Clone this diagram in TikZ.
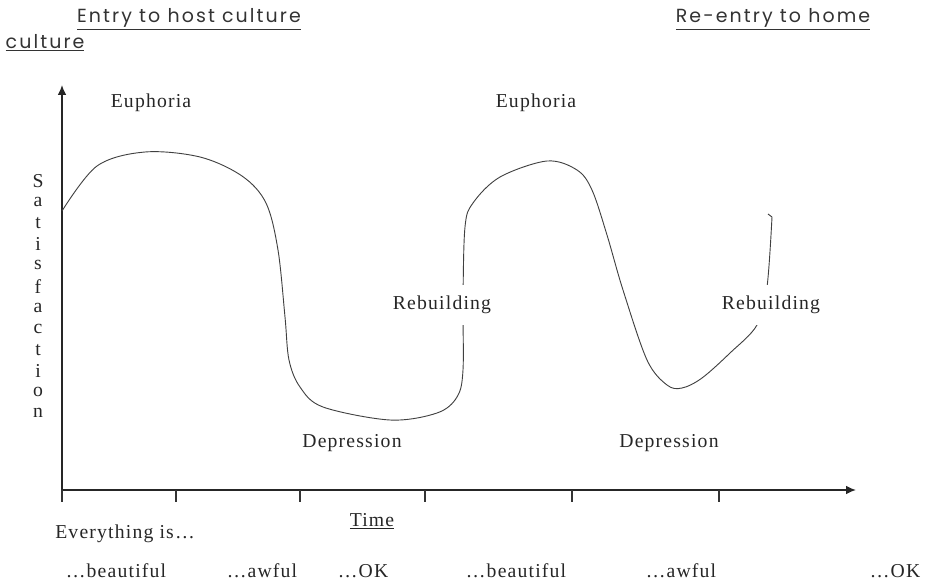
\documentclass[tikz,border=0pt]{standalone}
\usepackage{fontspec}
\usetikzlibrary{arrows.meta}
\setmainfont{Liberation Serif}
\newfontfamily\titlefont[LetterSpace=11]{Poppins}
\newfontfamily\lblfont[LetterSpace=6]{Liberation Serif}
\newcommand{\setup}{
    \coordinate (o)    at (62,490);
    \coordinate (ytop) at (62,85);
    \coordinate (xend) at (856,490);
}
\tikzset{
    axis/.style={line width=0.9pt, black!85},
    tick/.style={line width=0.8pt, black!80},
    wave/.style={line width=0.65pt, black!75},
    lbl/.style={font=\lblfont\fontsize{14}{16}\selectfont, inner sep=1pt, text=black!85},
    gaplbl/.style={lbl, fill=white, minimum height=28pt},
    title/.style={font=\titlefont\fontsize{13.5}{15}\selectfont, inner sep=1pt, text=black!80},
}

\begin{document}
\begin{tikzpicture}[x=0.025cm, y=-0.025cm]
          \useasboundingbox (0,0) rectangle (929,581);
          \setup;

          % axes
          \draw[axis,-{Latex[length=7pt,width=6pt]}] (o) -- (ytop);
          \draw[axis,-{Latex[length=7pt,width=6pt]}] (o) -- (xend);
          \foreach \x in {62,176,300,425,572,719}
            \draw[tick] (\x,490) -- (\x,502);

          % the curve
          \draw[wave] plot[smooth, tension=0.55] coordinates {
            (62,211) (97,166) (145,152) (200,157) (242,176) (266,203)
            (278,250) (285,317) (289,360) (300,387) (323,407) (390,420)
            (437,413) (457,397) (463,370) (463,300) (465,227) (473,203)
            (500,177) (547,161) (577,170) (592,190) (607,235) (623,290)
            (647,360) (667,385) (682,388) (702,378) (730,353) (757,325)
            (767,287) (772,217)
          };
          \draw[wave] (772,217) -- (768,214);

          % labels
          \node[lbl] (eu1) at (151,103) {Euphoria};
          \node[lbl] (eu2) at (536,103) {Euphoria};
          \node[gaplbl] (rb1) at (442,305) {Rebuilding};
          \node[gaplbl] (rb2) at (771,305) {Rebuilding};
          \node[lbl] (de1) at (352,443) {Depression};
          \node[lbl] (de2) at (669,443) {Depression};

          \foreach \ch [count=\i from 0] in {S,a,t,i,s,f,a,c,t,i,o,n}
            \node[lbl] (sat\i) at (38,181+21.1*\i) {\ch};

          \node[lbl] (time) at (372,521) {\underline{Time}};
          \node[lbl] (every) at (125,534) {Everything is\dots};
          \node[lbl] (b1) at (116,571) {\dots beautiful};
          \node[lbl] (a1) at (262,571) {\dots awful};
          \node[lbl] (k1) at (363,571) {\dots OK};
          \node[lbl] (b2) at (516,571) {\dots beautiful};
          \node[lbl] (a2) at (681,571) {\dots awful};
          \node[lbl] (k2) at (895,571) {\dots OK};

          \node[title] (entry) at (189,19) {\underline{Entry to host culture}};
          \node[title, anchor=west] (cult) at (4,43) {\underline{culture}};
          \node[title] (reentry) at (773,19) {\underline{Re-entry to home}};
\end{tikzpicture}
\end{document}
